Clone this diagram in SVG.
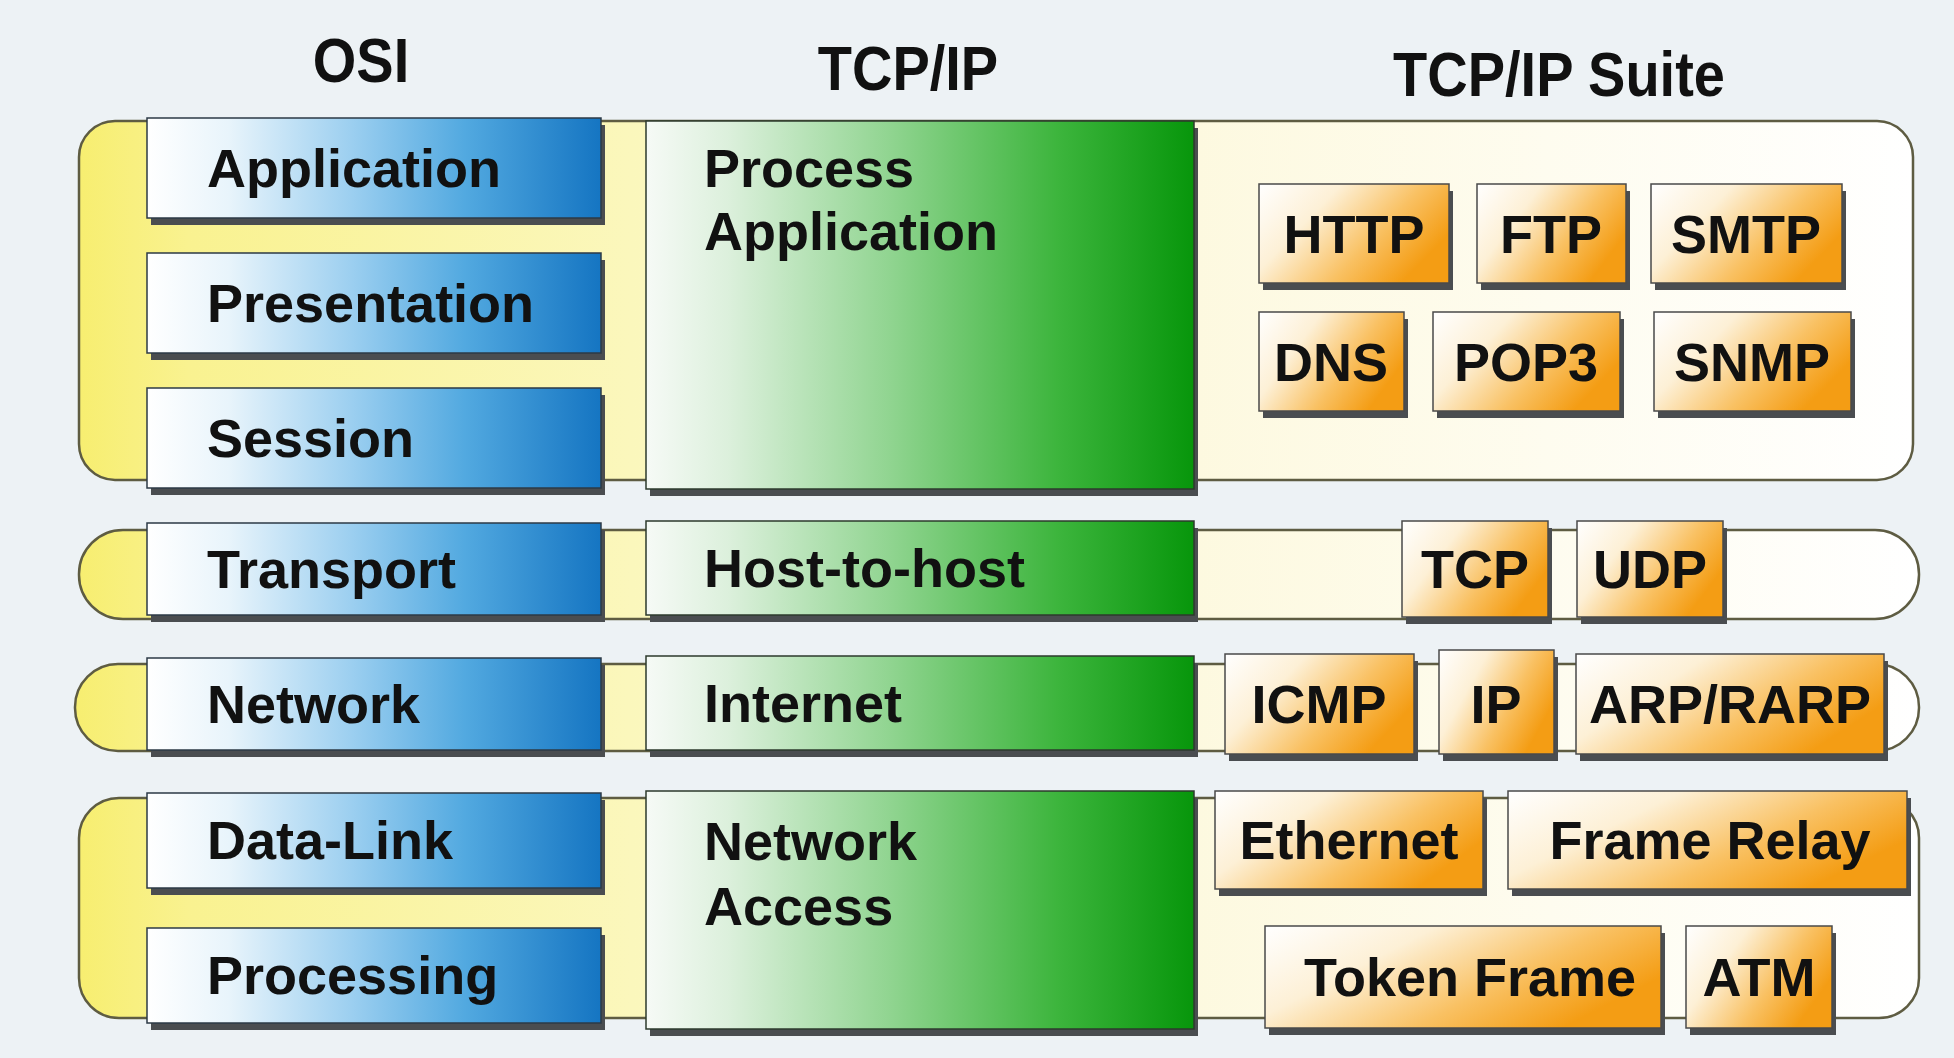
<svg xmlns="http://www.w3.org/2000/svg" width="1954" height="1058" viewBox="0 0 1954 1058">
<defs>
<linearGradient id="gGroup" x1="0" y1="0" x2="1" y2="0">
<stop offset="0" stop-color="#f7ee70"/>
<stop offset="0.06" stop-color="#f9f290"/>
<stop offset="0.3" stop-color="#fbf7bc"/>
<stop offset="0.6" stop-color="#fdf9df"/>
<stop offset="1" stop-color="#ffffff"/>
</linearGradient>
<linearGradient id="gBlue" x1="0" y1="0" x2="1" y2="0">
<stop offset="0" stop-color="#ffffff"/>
<stop offset="0.18" stop-color="#e8f4fb"/>
<stop offset="0.45" stop-color="#9ccff0"/>
<stop offset="0.7" stop-color="#52a9e0"/>
<stop offset="1" stop-color="#1575c2"/>
</linearGradient>
<linearGradient id="gGreen" x1="0" y1="0" x2="1" y2="0">
<stop offset="0" stop-color="#f6faf6"/>
<stop offset="0.15" stop-color="#dcf0dc"/>
<stop offset="0.45" stop-color="#8fd48f"/>
<stop offset="0.75" stop-color="#3db53d"/>
<stop offset="1" stop-color="#07960b"/>
</linearGradient>
<linearGradient id="gOrange" x1="0" y1="0" x2="1" y2="0.5">
<stop offset="0" stop-color="#ffffff"/>
<stop offset="0.35" stop-color="#fdf0d6"/>
<stop offset="0.7" stop-color="#f9c163"/>
<stop offset="1" stop-color="#f49d14"/>
</linearGradient>
<style>
.grp{fill:url(#gGroup);stroke:#5e5c42;stroke-width:2.5}
.shd{fill:#4a4d50}
.blue{fill:url(#gBlue);stroke:#2c3a46;stroke-width:1.5}
.green{fill:url(#gGreen);stroke:#2c3a2c;stroke-width:1.5}
.org{fill:url(#gOrange);stroke:#4a4a4a;stroke-width:1.5}
.hd{font-family:"Liberation Sans",Arial,sans-serif;font-weight:bold;font-size:56px;fill:#111;text-anchor:middle}
.lb{font-family:"Liberation Sans",Arial,sans-serif;font-weight:bold;font-size:54px;fill:#111}
.lc{font-family:"Liberation Sans",Arial,sans-serif;font-weight:bold;font-size:54px;fill:#111;text-anchor:middle}
</style>
</defs>
<rect x="0" y="0" width="1954" height="1058" fill="#edf2f5"/>

<g id="headers">
<text class="hd" transform="translate(361,82) scale(1,1.12)">OSI</text>
<text class="hd" transform="translate(908,90) scale(1,1.12)">TCP/IP</text>
<text class="hd" transform="translate(1559,96) scale(1,1.12)">TCP/IP Suite</text>
</g>

<g id="bands">
<rect id="band-application" class="grp" x="79" y="121" width="1834" height="359" rx="36"/>
<rect id="band-transport" class="grp" x="79" y="530" width="1840" height="89" rx="44"/>
<rect id="band-network" class="grp" x="75" y="664" width="1844" height="87" rx="43"/>
<rect id="band-link" class="grp" x="79" y="798" width="1840" height="220" rx="40"/>
</g>

<g id="connectors"/>

<g id="osi-application"><rect class="shd" x="151" y="125" width="454" height="100"/><rect class="blue" x="147" y="118" width="454" height="100"/><text class="lb" x="207" y="187">Application</text></g>
<g id="osi-presentation"><rect class="shd" x="151" y="260" width="454" height="100"/><rect class="blue" x="147" y="253" width="454" height="100"/><text class="lb" x="207" y="322">Presentation</text></g>
<g id="osi-session"><rect class="shd" x="151" y="395" width="454" height="100"/><rect class="blue" x="147" y="388" width="454" height="100"/><text class="lb" x="207" y="457">Session</text></g>
<g id="osi-transport"><rect class="shd" x="151" y="530" width="454" height="92"/><rect class="blue" x="147" y="523" width="454" height="92"/><text class="lb" x="207" y="588">Transport</text></g>
<g id="osi-network"><rect class="shd" x="151" y="665" width="454" height="92"/><rect class="blue" x="147" y="658" width="454" height="92"/><text class="lb" x="207" y="723">Network</text></g>
<g id="osi-datalink"><rect class="shd" x="151" y="800" width="454" height="95"/><rect class="blue" x="147" y="793" width="454" height="95"/><text class="lb" x="207" y="859">Data-Link</text></g>
<g id="osi-processing"><rect class="shd" x="151" y="935" width="454" height="95"/><rect class="blue" x="147" y="928" width="454" height="95"/><text class="lb" x="207" y="994">Processing</text></g>

<g id="tcp-process"><rect class="shd" x="650" y="128" width="548" height="368"/><rect class="green" x="646" y="121" width="548" height="368"/><text class="lb" x="704" y="187">Process</text><text class="lb" x="704" y="250">Application</text></g>
<g id="tcp-host"><rect class="shd" x="650" y="528" width="548" height="94"/><rect class="green" x="646" y="521" width="548" height="94"/><text class="lb" x="704" y="587">Host-to-host</text></g>
<g id="tcp-internet"><rect class="shd" x="650" y="663" width="548" height="94"/><rect class="green" x="646" y="656" width="548" height="94"/><text class="lb" x="704" y="722">Internet</text></g>
<g id="tcp-netaccess"><rect class="shd" x="650" y="798" width="548" height="238"/><rect class="green" x="646" y="791" width="548" height="238"/><text class="lb" x="704" y="860">Network</text><text class="lb" x="704" y="925">Access</text></g>

<g id="p-http"><rect class="shd" x="1263" y="191" width="190" height="99"/><rect class="org" x="1259" y="184" width="190" height="99"/><text class="lc" x="1354" y="253">HTTP</text></g>
<g id="p-ftp"><rect class="shd" x="1481" y="191" width="149" height="99"/><rect class="org" x="1477" y="184" width="149" height="99"/><text class="lc" x="1551" y="253">FTP</text></g>
<g id="p-smtp"><rect class="shd" x="1655" y="191" width="191" height="99"/><rect class="org" x="1651" y="184" width="191" height="99"/><text class="lc" x="1746" y="253">SMTP</text></g>
<g id="p-dns"><rect class="shd" x="1263" y="319" width="145" height="99"/><rect class="org" x="1259" y="312" width="145" height="99"/><text class="lc" x="1331" y="381">DNS</text></g>
<g id="p-pop3"><rect class="shd" x="1437" y="319" width="187" height="99"/><rect class="org" x="1433" y="312" width="187" height="99"/><text class="lc" x="1526" y="381">POP3</text></g>
<g id="p-snmp"><rect class="shd" x="1658" y="319" width="197" height="99"/><rect class="org" x="1654" y="312" width="197" height="99"/><text class="lc" x="1752" y="381">SNMP</text></g>
<g id="p-tcp"><rect class="shd" x="1406" y="528" width="146" height="96"/><rect class="org" x="1402" y="521" width="146" height="96"/><text class="lc" x="1475" y="588">TCP</text></g>
<g id="p-udp"><rect class="shd" x="1581" y="528" width="146" height="96"/><rect class="org" x="1577" y="521" width="146" height="96"/><text class="lc" x="1650" y="588">UDP</text></g>
<g id="p-icmp"><rect class="shd" x="1229" y="661" width="189" height="100"/><rect class="org" x="1225" y="654" width="189" height="100"/><text class="lc" x="1319" y="723">ICMP</text></g>
<g id="p-ip"><rect class="shd" x="1443" y="657" width="115" height="104"/><rect class="org" x="1439" y="650" width="115" height="104"/><text class="lc" x="1496" y="723">IP</text></g>
<g id="p-arp"><rect class="shd" x="1580" y="661" width="308" height="100"/><rect class="org" x="1576" y="654" width="308" height="100"/><text class="lc" x="1730" y="723">ARP/RARP</text></g>
<g id="p-ethernet"><rect class="shd" x="1219" y="798" width="268" height="98"/><rect class="org" x="1215" y="791" width="268" height="98"/><text class="lc" x="1349" y="859">Ethernet</text></g>
<g id="p-framerelay"><rect class="shd" x="1512" y="798" width="399" height="98"/><rect class="org" x="1508" y="791" width="399" height="98"/><text class="lc" x="1710" y="859">Frame Relay</text></g>
<g id="p-tokenframe"><rect class="shd" x="1269" y="933" width="396" height="102"/><rect class="org" x="1265" y="926" width="396" height="102"/><text class="lc" x="1470" y="996">Token Frame</text></g>
<g id="p-atm"><rect class="shd" x="1690" y="933" width="146" height="102"/><rect class="org" x="1686" y="926" width="146" height="102"/><text class="lc" x="1759" y="996">ATM</text></g>
</svg>
